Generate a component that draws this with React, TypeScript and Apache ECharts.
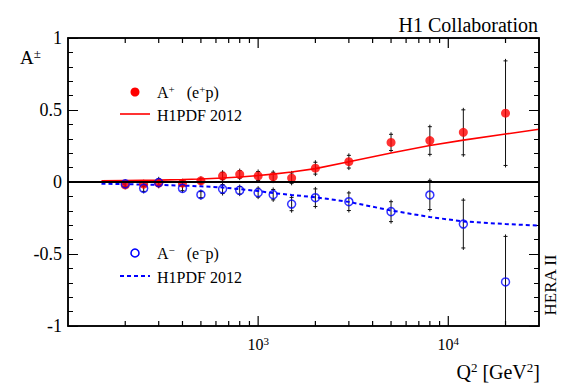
import React, { useEffect, useRef } from "react";
import * as echarts from "echarts";

// Q^2 bin centres [GeV^2]
const q2 = [200, 250, 300, 400, 500, 650, 800, 1000, 1200, 1500, 2000, 3000, 5000, 8000, 12000, 20000];
// A+ (e+p)
const aPlus = [-0.02, -0.015, -0.007, -0.008, 0.008, 0.042, 0.053, 0.042, 0.037, 0.027, 0.096, 0.141, 0.275, 0.288, 0.345, 0.478];
const aPlusErr = [0.03, 0.03, 0.03, 0.03, 0.03, 0.04, 0.04, 0.045, 0.045, 0.05, 0.055, 0.058, 0.07, 0.11, 0.17, 0.377];
// A- (e-p)
const aMinus = [-0.013, -0.044, -0.004, -0.044, -0.088, -0.049, -0.058, -0.074, -0.088, -0.153, -0.109, -0.137, -0.206, -0.09, -0.292, -0.694];
const aMinusErr = [0.03, 0.035, 0.04, 0.03, 0.035, 0.045, 0.04, 0.045, 0.05, 0.06, 0.075, 0.075, 0.083, 0.115, 0.18, 0.33];
// H1PDF 2012 predictions
const curveQ2 = [150, 200, 300, 400, 500, 650, 800, 1000, 1200, 1500, 2000, 3000, 5000, 8000, 12000, 20000, 30000];
const h1pdfPlus = [0.008, 0.01, 0.013, 0.017, 0.021, 0.028, 0.035, 0.045, 0.055, 0.069, 0.093, 0.14, 0.202, 0.253, 0.291, 0.333, 0.366];
const h1pdfMinus = [-0.012, -0.015, -0.02, -0.025, -0.03, -0.038, -0.05, -0.063, -0.077, -0.09, -0.106, -0.138, -0.198, -0.243, -0.274, -0.292, -0.303];
// x ticks (log axis): major and minor
const xMajorTicks = [1000, 10000];
const xMinorTicks = [200, 300, 400, 500, 600, 700, 800, 900, 2000, 3000, 4000, 5000, 6000, 7000, 8000, 9000, 20000];

const SERIF = "'Liberation Serif', 'DejaVu Serif', serif";

export default function App() {
  const ref = useRef<HTMLDivElement>(null);
  useEffect(() => {
    if (!ref.current) return;
    const chart = echarts.init(ref.current, undefined, { renderer: "svg" });

    const errRender = (params: any, api: any) => {
      const x = api.value(0);
      const y = api.value(1);
      const e = api.value(2);
      const top = api.coord([x, y + e]);
      const bot = api.coord([x, y - e]);
      const st = { stroke: "#111", lineWidth: 1 };
      const c = 2;
      return {
        type: "group",
        children: [
          { type: "line", shape: { x1: top[0], y1: top[1], x2: bot[0], y2: bot[1] }, style: st },
          { type: "line", shape: { x1: top[0] - c, y1: top[1] + 2, x2: top[0] + c, y2: top[1] + 2 }, style: st },
          { type: "line", shape: { x1: bot[0] - c, y1: bot[1] - 2, x2: bot[0] + c, y2: bot[1] - 2 }, style: st },
        ],
      };
    };

    const tickRender = (params: any, api: any) => {
      const v = api.value(0);
      const len = api.value(1);
      const b = api.coord([v, -1]);
      const t = api.coord([v, 1]);
      const st = { stroke: "#000", lineWidth: 1.2 };
      return {
        type: "group",
        children: [
          { type: "line", shape: { x1: b[0], y1: b[1], x2: b[0], y2: b[1] - len }, style: st },
          { type: "line", shape: { x1: t[0], y1: t[1], x2: t[0], y2: t[1] + len }, style: st },
        ],
      };
    };

    const xAxisBase = {
      type: "log",
      logBase: 10,
      min: 100,
      max: 30000,
      axisLine: { show: true, onZero: false, lineStyle: { color: "#000", width: 1.5 } },
      axisTick: { show: false },
      splitLine: { show: false },
    };
    const yAxisBase = {
      type: "value",
      min: -1,
      max: 1,
      interval: 0.5,
      axisLine: { show: true, onZero: false, lineStyle: { color: "#000", width: 1.5 } },
      axisTick: { show: true, inside: true, length: 10, lineStyle: { color: "#000", width: 1 } },
      minorTick: { show: true, splitNumber: 5, length: 5, lineStyle: { color: "#000", width: 1 } },
      splitLine: { show: false },
    };

    const supRich = (size: number, supSize: number) => ({
      b: { fontSize: size, fontFamily: SERIF, color: "#000", lineHeight: size + 2 },
      s: { fontSize: supSize, fontFamily: SERIF, color: "#000", lineHeight: supSize, verticalAlign: "top" },
    });

    chart.setOption({
      animation: false,
      backgroundColor: "#fff",
      grid: { left: 68, right: 28, top: 38, bottom: 58 },
      xAxis: [
        {
          ...xAxisBase,
          position: "bottom",
          axisLabel: {
            margin: 9,
            formatter: (v: number) => {
              const p = Math.round(Math.log10(v));
              if (Math.abs(Math.log10(v) - p) > 1e-6) return "";
              if (p === 3 || p === 4) return `{b|10}{s|${p}}`;
              return "";
            },
            rich: supRich(16, 11),
          },
        },
        { ...xAxisBase, position: "top", axisLabel: { show: false } },
      ],
      yAxis: [
        {
          ...yAxisBase,
          position: "left",
          axisLabel: { margin: 6, color: "#000", fontSize: 18, fontFamily: SERIF },
        },
        { ...yAxisBase, position: "right", axisLabel: { show: false } },
      ],
      series: [
        {
          type: "custom",
          name: "x ticks",
          silent: true,
          clip: false,
          renderItem: tickRender,
          data: [...xMajorTicks.map((v) => [v, 10]), ...xMinorTicks.map((v) => [v, 5])],
          z: 5,
        },
        {
          type: "custom",
          name: "A+ err",
          clip: true,
          silent: true,
          renderItem: errRender,
          data: q2.map((q, i) => [q, aPlus[i], aPlusErr[i]]),
          z: 2,
        },
        {
          type: "custom",
          name: "A- err",
          clip: true,
          silent: true,
          renderItem: errRender,
          data: q2.map((q, i) => [q, aMinus[i], aMinusErr[i]]),
          z: 2,
        },
        {
          type: "line",
          name: "H1PDF 2012 (e+p)",
          data: curveQ2.map((q, i) => [q, h1pdfPlus[i]]),
          showSymbol: false,
          symbol: "none",
          smooth: false,
          lineStyle: { color: "#ff0000", width: 1.6 },
          z: 3,
          markLine: {
            silent: true,
            symbol: "none",
            label: { show: false },
            lineStyle: { color: "#000", width: 2, type: "solid" },
            data: [{ yAxis: 0 }],
          },
        },
        {
          type: "line",
          name: "H1PDF 2012 (e-p)",
          data: curveQ2.map((q, i) => [q, h1pdfMinus[i]]),
          showSymbol: false,
          symbol: "none",
          smooth: false,
          lineStyle: { color: "#0000ff", width: 2, type: [4, 3] },
          z: 3,
        },
        {
          type: "scatter",
          name: "A+",
          data: q2.map((q, i) => [q, aPlus[i]]),
          symbol: "circle",
          symbolSize: 9,
          itemStyle: { color: "#ff0000" },
          z: 4,
        },
        {
          type: "scatter",
          name: "A-",
          data: q2.map((q, i) => [q, aMinus[i]]),
          symbol: "circle",
          symbolSize: 8,
          itemStyle: { color: "rgba(0,0,0,0)", borderColor: "#0000ff", borderWidth: 1.5 },
          z: 4,
        },
      ],
      graphic: [
        // plot frame
        {
          type: "rect",
          z: 10,
          silent: true,
          shape: { x: 68, y: 38, width: 471, height: 288 },
          style: { fill: "rgba(0,0,0,0)", stroke: "#000", lineWidth: 1.5 },
        },
        {
          type: "text",
          style: { text: "H1 Collaboration", x: 538, y: 25, align: "right", verticalAlign: "middle", font: `20px ${SERIF}`, fill: "#000" },
        },
        {
          type: "text",
          style: {
            text: "{b|A}{s|±}",
            x: 20,
            y: 57,
            align: "left",
            verticalAlign: "middle",
            rich: {
              b: { fontSize: 19, fontFamily: SERIF, fill: "#000", lineHeight: 20 },
              s: { fontSize: 13, fontFamily: SERIF, fill: "#000", lineHeight: 13, verticalAlign: "top" },
            },
          },
        },
        {
          type: "text",
          style: {
            text: "{b|Q}{s|2}{b| [GeV}{s|2}{b|]}",
            x: 540,
            y: 372,
            align: "right",
            verticalAlign: "middle",
            rich: {
              b: { fontSize: 20, fontFamily: SERIF, fill: "#000", lineHeight: 22 },
              s: { fontSize: 13, fontFamily: SERIF, fill: "#000", lineHeight: 13, verticalAlign: "top" },
            },
          },
        },
        {
          type: "text",
          x: 550,
          y: 285,
          rotation: Math.PI / 2,
          style: { text: "HERA II", x: 0, y: 0, align: "center", verticalAlign: "middle", font: `17px ${SERIF}`, fill: "#000" },
        },
        // legend (e+p)
        { type: "circle", shape: { cx: 135, cy: 92, r: 4.5 }, style: { fill: "#ff0000" } },
        {
          type: "text",
          style: {
            text: "{b|A}{s|+}{b|   (e}{s|+}{b|p)}",
            x: 157,
            y: 92,
            align: "left",
            verticalAlign: "middle",
            rich: supRich(16, 11),
          },
        },
        { type: "line", shape: { x1: 120, y1: 114, x2: 150, y2: 114 }, style: { stroke: "#ff0000", lineWidth: 1.6 } },
        {
          type: "text",
          style: { text: "H1PDF 2012", x: 157, y: 115, align: "left", verticalAlign: "middle", font: `16px ${SERIF}`, fill: "#000" },
        },
        // legend (e-p)
        { type: "circle", shape: { cx: 135, cy: 253, r: 4 }, style: { fill: "rgba(0,0,0,0)", stroke: "#0000ff", lineWidth: 1.5 } },
        {
          type: "text",
          style: {
            text: "{b|A}{s|−}{b|   (e}{s|−}{b|p)}",
            x: 157,
            y: 253,
            align: "left",
            verticalAlign: "middle",
            rich: supRich(16, 11),
          },
        },
        { type: "line", shape: { x1: 120, y1: 276, x2: 150, y2: 276 }, style: { stroke: "#0000ff", lineWidth: 2, lineDash: [4, 3] } },
        {
          type: "text",
          style: { text: "H1PDF 2012", x: 157, y: 277, align: "left", verticalAlign: "middle", font: `16px ${SERIF}`, fill: "#000" },
        },
      ],
    });
    return () => chart.dispose();
  }, []);
  return <div ref={ref} style={{ width: 567, height: 384, position: "absolute", left: 0, top: 0 }} />;
}
